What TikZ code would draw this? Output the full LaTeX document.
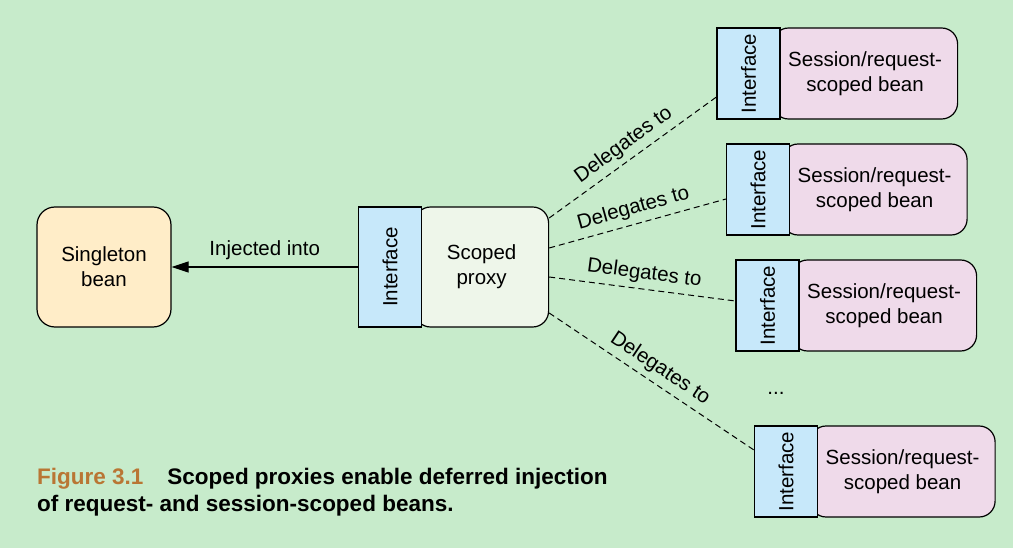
\documentclass[tikz,border=0pt]{standalone}
\usepackage{fontspec}
\setmainfont{Liberation Sans}
\usepackage{tikz}
\usetikzlibrary{arrows.meta}
\definecolor{bgcol}{RGB}{199,235,203}
\definecolor{singlecol}{RGB}{255,237,200}
\definecolor{ifacecol}{RGB}{199,232,250}
\definecolor{proxycol}{RGB}{238,246,234}
\definecolor{beancol}{RGB}{239,218,234}
\definecolor{figcol}{RGB}{185,118,52}
\tikzset{
  lbl/.style={font=\fontsize{20.5}{25}\selectfont},
  box/.style={draw, line width=1.2pt, lbl, align=center, inner sep=0pt},
  iface/.style={box, fill=ifacecol, rotate=90, minimum width=91pt, minimum height=63pt},
  bean/.style={box, fill=beancol, rounded corners=16pt, minimum width=185pt, minimum height=91pt},
  deleg/.style={dashed, dash pattern=on 6pt off 4pt, line width=1pt}
}

\begin{document}
\begin{tikzpicture}[x=1pt,y=-1pt]
\fill[bgcol] (0,0) rectangle (1013,548);
\useasboundingbox (0,0) rectangle (1013,548);

% singleton and the proxy in front of it
\node[box, fill=singlecol, rounded corners=18pt, minimum width=134pt, minimum height=120pt] (single) at (104,267) {Singleton\\bean};
\node[box, fill=proxycol, rounded corners=16pt, minimum width=134pt, minimum height=120pt, anchor=west] (proxy) at (414,267) {Scoped\\proxy};
\node[iface, minimum width=120pt] (ip) at (390,267) {Interface};
\draw[line width=1.2pt, -{Triangle[length=17pt,width=11pt]}] (ip.north) -- node[lbl, above=3pt] {Injected into} (single.east);

% session/request-scoped beans
\foreach \n/\x/\y in {1/748.5/73.5, 2/758/189.5, 3/767.5/305.5, 4/786/471.5} {
	\node[bean, anchor=west] (b\n) at (\x+23.5,\y) {Session/request-\\scoped bean};
	\node[iface] (i\n) at (\x,\y) {Interface};
}
\node[lbl] (dots) at (776,393) {...};

\foreach \n/\s/\e in {1/49/-23.5, 2/19/-9.5, 3/-10/4.5, 4/-46/21.5}
	\draw[deleg] ([yshift=\s pt]proxy.east) -- node[lbl, sloped, above=2pt] {Delegates to} ([yshift=\e pt]i\n.north);

% caption
\node[anchor=base west, align=left, inner sep=0pt, font=\fontsize{22.5}{27}\selectfont\bfseries] (cap) at (37,511)
	{{\color{figcol}Figure 3.1}\hspace{24pt}Scoped proxies enable deferred injection\\of request- and session-scoped beans.};
\end{tikzpicture}
\end{document}
